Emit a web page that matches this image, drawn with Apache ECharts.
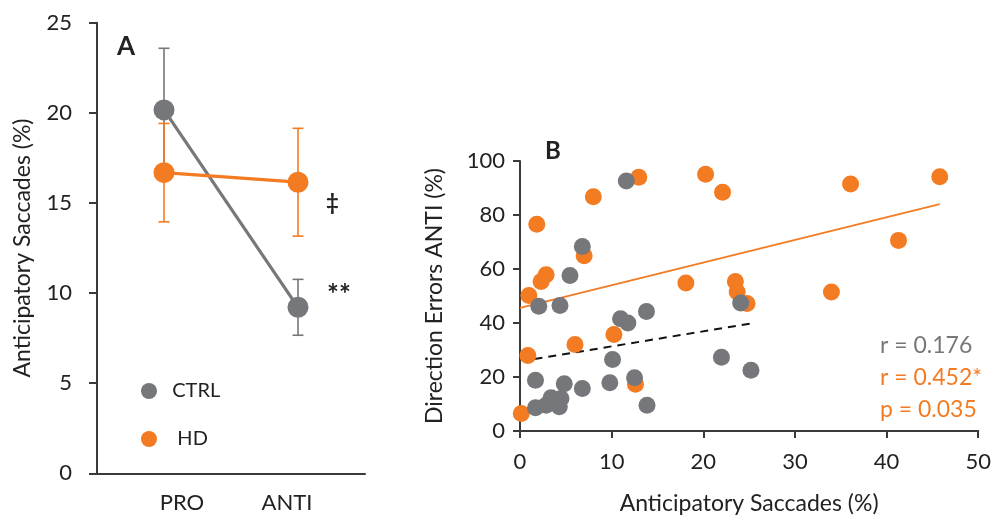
<!DOCTYPE html>
<html>
<head>
<meta charset="utf-8">
<script src="https://cdn.jsdelivr.net/npm/echarts@6/dist/echarts.min.js"></script>
<style>
  html, body { margin: 0; padding: 0; background: #fff; }
  #chart { width: 994px; height: 520px; }
</style>
</head>
<body>
<div id="chart"></div>
<script>
// panel A - mean anticipatory saccades per task
var tasks = ['PRO', 'ANTI'];
var ctrlMean = [20.16, 9.21];
var ctrlErr = [3.42, 1.55];
var hdMean = [16.68, 16.15];
var hdErr = [2.73, 2.99];

// panel B - anticipatory saccades (%) vs direction errors ANTI (%)
var ctrlPoints = [
    [11.6, 92.6], [6.8, 68.3], [5.45, 57.6], [2.05, 46.2], [4.36, 46.5],
    [10.97, 41.6], [11.77, 40.0], [13.8, 44.3], [10.1, 26.5], [1.69, 18.8],
    [4.83, 17.5], [6.8, 15.7], [9.8, 17.9], [12.5, 19.7], [13.86, 9.5],
    [1.69, 8.6], [2.85, 9.5], [3.39, 12.3], [4.47, 12.0], [4.29, 9.0],
    [24.08, 47.4], [21.98, 27.3], [25.2, 22.5]
];
var hdPoints = [
    [0.14, 6.5], [1.83, 76.6], [0.97, 50.2], [2.3, 55.4], [2.85, 57.9],
    [0.86, 28.0], [7.0, 64.9], [8.0, 86.8], [12.96, 94.0], [6.0, 32.0],
    [10.25, 35.7], [12.6, 17.3], [18.1, 54.8], [20.25, 95.1], [22.1, 88.4],
    [36.07, 91.5], [45.8, 94.2], [41.3, 70.6], [23.5, 55.4], [23.7, 51.5],
    [24.77, 47.2], [33.98, 51.5]
];
// linear fits as shown in the figure: [slope, intercept, xFrom, xTo]
var ctrlFit = [0.555, 25.8, 1.58, 25.2];
var hdFit = [0.84, 45.6, 0, 45.8];

var GRAY = '#76777b';
var ORANGE = '#f37b22';
var AXIS = '#3a3a3a';
var TXT = '#222';
var FONT = 'Lato';

function fitLine(f) {
    return [[f[2], f[1] + f[0] * f[2]], [f[3], f[1] + f[0] * f[3]]];
}

function errData(mean, err) {
    return mean.map(function (m, i) { return [i, m - err[i], m + err[i]]; });
}

function renderErr(color) {
    return function (params, api) {
        var lo = api.coord([api.value(0), api.value(1)]);
        var hi = api.coord([api.value(0), api.value(2)]);
        var w = 5.5;
        var st = { stroke: color, lineWidth: 1.6 };
        return {
            type: 'group',
            children: [
                { type: 'line', shape: { x1: hi[0], y1: hi[1], x2: lo[0], y2: lo[1] }, style: st },
                { type: 'line', shape: { x1: hi[0] - w, y1: hi[1], x2: hi[0] + w, y2: hi[1] }, style: st },
                { type: 'line', shape: { x1: lo[0] - w, y1: lo[1], x2: lo[0] + w, y2: lo[1] }, style: st }
            ]
        };
    };
}

var chart = echarts.init(document.getElementById('chart'), null, { renderer: 'canvas' });

var axisLine = { show: true, lineStyle: { color: AXIS, width: 2 } };
var axisTick = { show: true, inside: false, length: 7, lineStyle: { color: AXIS, width: 2 } };

var option = {
    backgroundColor: '#fff',
    animation: false,
    color: [GRAY, ORANGE],
    textStyle: { fontFamily: FONT },
    grid: [
        { left: 97, top: 22.7, width: 268, height: 450.6 },
        { left: 520, top: 161, width: 462, height: 270.7 }
    ],
    legend: {
        orient: 'vertical',
        left: 136,
        top: 376,
        itemWidth: 16,
        itemHeight: 16,
        itemGap: 28,
        icon: 'circle',
        data: [
            { name: 'CTRL', itemStyle: { color: GRAY } },
            { name: 'HD', itemStyle: { color: ORANGE } }
        ],
        formatter: function (name) { return name === 'HD' ? '   HD' : '  ' + name; },
        textStyle: { fontSize: 20, color: TXT, fontFamily: FONT }
    },
    xAxis: [
        {
            gridIndex: 0, type: 'category', data: tasks, boundaryGap: true,
            axisLine: axisLine, axisTick: { show: false },
            axisLabel: {
                margin: 19, fontSize: 22, color: TXT,
                formatter: function (v) { return v === 'PRO' ? '{p|PRO}' : '{a|ANTI}'; },
                rich: {
                    p: { fontSize: 22, color: TXT, padding: [0, 0, 0, 36] },
                    a: { fontSize: 22, color: TXT, padding: [0, 22, 0, 0] }
                }
            },
            splitLine: { show: false }
        },
        {
            gridIndex: 1, type: 'value', min: 0, max: 50, interval: 10,
            axisLine: axisLine, axisTick: axisTick,
            axisLabel: { margin: 20, fontSize: 22, color: TXT },
            splitLine: { show: false },
            name: 'Anticipatory Saccades (%)', nameLocation: 'middle', nameGap: 61,
            nameTextStyle: { fontSize: 23, color: TXT }
        }
    ],
    yAxis: [
        {
            gridIndex: 0, type: 'value', min: 0, max: 25, interval: 5,
            axisLine: axisLine, axisTick: { show: true, length: 8, lineStyle: { color: AXIS, width: 2 } },
            axisLabel: { margin: 25, fontSize: 22, color: TXT },
            splitLine: { show: false },
            name: 'Anticipatory Saccades (%)', nameLocation: 'middle', nameGap: 63, nameRotate: 90,
            nameTextStyle: { fontSize: 23, color: TXT }
        },
        {
            gridIndex: 1, type: 'value', min: 0, max: 100, interval: 20,
            axisLine: axisLine, axisTick: axisTick,
            axisLabel: { margin: 15, fontSize: 22, color: TXT },
            splitLine: { show: false },
            name: 'Direction Errors ANTI (%)', nameLocation: 'middle', nameGap: 74, nameRotate: 90,
            nameTextStyle: { fontSize: 23, color: TXT }
        }
    ],
    series: [
        // panel A
        {
            name: 'CTRL', type: 'custom', xAxisIndex: 0, yAxisIndex: 0, z: 2,
            itemStyle: { color: GRAY },
            data: errData(ctrlMean, ctrlErr), renderItem: renderErr(GRAY), silent: true
        },
        {
            name: 'CTRL', type: 'line', xAxisIndex: 0, yAxisIndex: 0, z: 3,
            data: ctrlMean, symbol: 'circle', symbolSize: 21,
            lineStyle: { color: GRAY, width: 3.2 }, itemStyle: { color: GRAY }
        },
        {
            name: 'HD', type: 'custom', xAxisIndex: 0, yAxisIndex: 0, z: 4,
            itemStyle: { color: ORANGE },
            data: errData(hdMean, hdErr), renderItem: renderErr(ORANGE), silent: true
        },
        {
            name: 'HD', type: 'line', xAxisIndex: 0, yAxisIndex: 0, z: 5,
            data: hdMean, symbol: 'circle', symbolSize: 21,
            lineStyle: { color: ORANGE, width: 3.2 }, itemStyle: { color: ORANGE }
        },
        // panel B
        {
            type: 'line', xAxisIndex: 1, yAxisIndex: 1, z: 1, symbol: 'none',
            data: fitLine(hdFit), lineStyle: { color: ORANGE, width: 1.8 }
        },
        {
            type: 'line', xAxisIndex: 1, yAxisIndex: 1, z: 1, symbol: 'none',
            data: fitLine(ctrlFit), lineStyle: { color: '#111', width: 2, type: [8, 6] }
        },
        {
            name: 'HD', type: 'scatter', xAxisIndex: 1, yAxisIndex: 1, z: 3,
            data: hdPoints, symbolSize: 17, itemStyle: { color: ORANGE, opacity: 1 }
        },
        {
            name: 'CTRL', type: 'scatter', xAxisIndex: 1, yAxisIndex: 1, z: 4,
            data: ctrlPoints, symbolSize: 17, itemStyle: { color: GRAY, opacity: 1 }
        }
    ],
    graphic: [
        { type: 'text', left: 117, top: 34, style: { text: 'A', font: 'bold 26px ' + FONT, fill: TXT } },
        { type: 'text', left: 545, top: 139, style: { text: 'B', font: 'bold 24px ' + FONT, fill: TXT } },
        { type: 'text', left: 326, top: 192, style: { text: '\u2021', font: 'bold 22px ' + FONT, fill: TXT } },
        { type: 'text', left: 327, top: 281, style: { text: '**', font: 'bold 28px ' + FONT, fill: TXT } },
        { type: 'text', left: 880, top: 334, style: { text: 'r = 0.176', font: '23px ' + FONT, fill: GRAY } },
        { type: 'text', left: 880, top: 366, style: { text: 'r = 0.452*', font: '23px ' + FONT, fill: ORANGE } },
        { type: 'text', left: 880, top: 398, style: { text: 'p = 0.035', font: '23px ' + FONT, fill: ORANGE } }
    ]
};

chart.setOption(option);
</script>
</body>
</html>
